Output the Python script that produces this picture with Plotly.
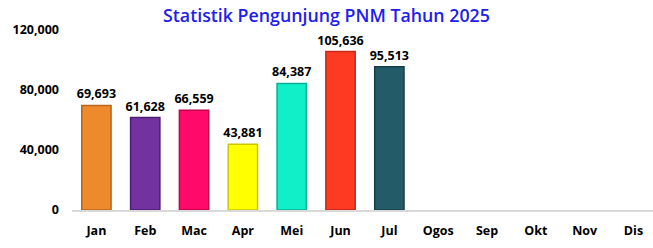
import plotly.graph_objects as go

months = ["Jan", "Feb", "Mac", "Apr", "Mei", "Jun", "Jul", "Ogos", "Sep", "Okt", "Nov", "Dis"]
visitors = [69693, 61628, 66559, 43881, 84387, 105636, 95513, None, None, None, None, None]
bar_colors = ["#EE8A2C", "#7232A0", "#FF0A6A", "#FFFF00", "#10F0C8", "#FF3A22", "#245B68",
              "#888888", "#888888", "#888888", "#888888", "#888888"]
edge_colors = ["#B8651C", "#4E1E72", "#C00048", "#C8C800", "#0AAE92", "#C4281A", "#173E47",
               "#888888", "#888888", "#888888", "#888888", "#888888"]
y_ticks = [0, 40000, 80000, 120000]

labels = [f"{v:,}" if v is not None else "" for v in visitors]

fig = go.Figure(go.Bar(
    x=months, y=visitors,
    marker=dict(color=bar_colors, line=dict(color=edge_colors, width=1.5)),
    width=0.6,
    text=labels, textposition="outside", cliponaxis=False, constraintext="none",
    textfont=dict(family="Open Sans", size=12.5, color="#000000", weight="bold"),
))

fig.update_layout(
    width=653, height=248,
    margin=dict(l=72, r=0, t=30, b=38),
    paper_bgcolor="white", plot_bgcolor="white",
    showlegend=False,
    title=dict(text="Statistik Pengunjung PNM Tahun 2025", x=0.5, xanchor="center",
               y=0.935, yanchor="middle",
               font=dict(family="Open Sans", size=17.8, color="#2020EE", weight=600)),
    xaxis=dict(range=[-0.5, 11.4], showgrid=False, showline=True, linecolor="#D9D9D9",
               linewidth=1.5, ticks="", ticklabelstandoff=8,
               tickfont=dict(family="Open Sans", size=12.5, color="#000", weight="bold")),
    yaxis=dict(range=[0, 120000], tickvals=y_ticks, tickformat=",", showgrid=False,
               zeroline=False, showline=False, ticks="", ticklabelstandoff=12,
               tickfont=dict(family="Open Sans", size=12.5, color="#000", weight="bold")),
)

fig.write_html("out.html")
